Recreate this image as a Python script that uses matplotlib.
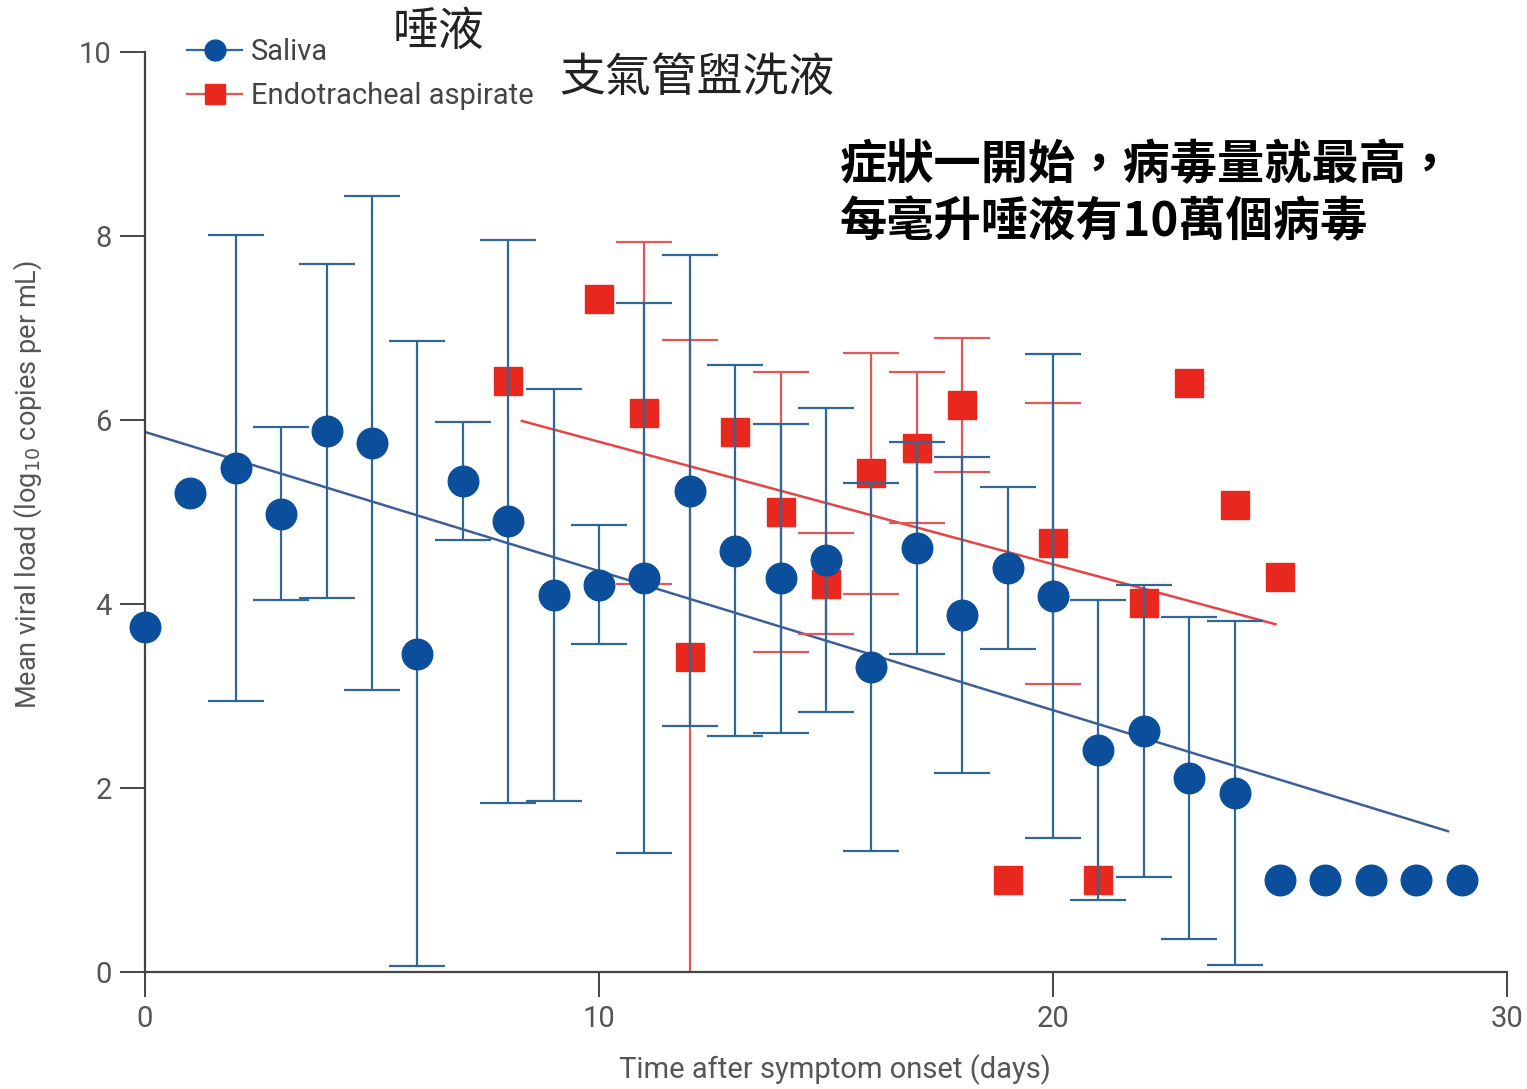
import numpy as np
import matplotlib
matplotlib.use("Agg")
from matplotlib import pyplot as plt
from matplotlib.lines import Line2D

# saliva: mean and SD of log10 viral load by day after onset
sal_days = list(range(30))
sal_mean = [3.75, 5.21, 5.48, 4.98, 5.88, 5.75, 3.46, 5.34, 4.90, 4.10,
            4.21, 4.28, 5.23, 4.58, 4.28, 4.48, 3.32, 4.61, 3.88, 4.39,
            4.09, 2.41, 2.62, 2.11, 1.95, 1.0, 1.0, 1.0, 1.0, 1.0]
nan = np.nan
sal_sd = [nan, nan, 2.53, 0.94, 1.82, 2.68, 3.40, 0.64, 3.06, 2.24,
          0.65, 2.99, 2.56, 2.02, 1.68, 1.65, 2.00, 1.15, 1.72, 0.88,
          2.63, 1.63, 1.59, 1.75, 1.87, nan, nan, nan, nan, nan]

# endotracheal aspirate
et_days = [8, 10, 11, 12, 13, 14, 15, 16, 17, 18, 19, 20, 21, 22, 23, 24, 25]
et_mean = [6.42, 7.32, 6.08, 3.42, 5.87, 5.00, 4.22, 5.42, 5.70, 6.16,
           1.0, 4.66, 1.0, 4.01, 6.40, 5.08, 4.29]
et_sd = [nan, nan, 1.86, 3.45, nan, 1.52, 0.55, 1.31, 0.82, 0.73,
         nan, 1.53, nan, nan, nan, nan, nan]

# fitted trend lines (end points)
sal_fit_x = [0, 28.7]
sal_fit_y = [5.87, 1.53]
et_fit_x = [8.3, 24.9]
et_fit_y = [5.99, 3.78]

font = 'Roboto'
blue = '#0b4f9c'
blue_err = '#2f6894'
red = '#e8271f'
red_err = '#e0585a'
grey = '#555555'

fig = plt.figure(figsize=(15.27, 10.89), dpi=100)
W, H = 1527, 1089
ax = fig.add_axes([145 / W, 1 - 972 / H, 1362 / W, 920 / H])

ax.plot(sal_fit_x, sal_fit_y, color='#3d5f98', lw=1.8, zorder=1)
ax.plot(et_fit_x, et_fit_y, color='#e64545', lw=1.8, zorder=1)

ax.errorbar(et_days, et_mean, yerr=et_sd, fmt='none', ecolor=red_err,
            elinewidth=1.6, capsize=20, capthick=1.6, zorder=2)
ax.plot(et_days, et_mean, 's', color=red, ms=20, mec=red, zorder=3, clip_on=False)
ax.errorbar(sal_days, sal_mean, yerr=sal_sd, fmt='none', ecolor=blue_err,
            elinewidth=1.6, capsize=20, capthick=1.6, zorder=4)
ax.plot(sal_days, sal_mean, 'o', color=blue, ms=22, mec=blue, zorder=5, clip_on=False)

ax.set_xlim(0, 30)
ax.set_ylim(0, 10)
ax.set_xticks([0, 10, 20, 30])
ax.set_yticks([0, 2, 4, 6, 8, 10])
for s in ['top', 'right']:
    ax.spines[s].set_visible(False)
for s in ['left', 'bottom']:
    ax.spines[s].set_color('#444444')
    ax.spines[s].set_linewidth(1.6)
ax.tick_params(length=18, width=1.4, color='#444444', labelcolor=grey,
               labelsize=21, pad=6)
for lab in ax.get_xticklabels() + ax.get_yticklabels():
    lab.set_family(font)

ax.set_xlabel('Time after symptom onset (days)', family=font, fontsize=21,
              color=grey, va='center')
ax.xaxis.set_label_coords((835 - 145) / 1362, -(1070 - 972) / 920)
ax.set_ylabel('Mean viral load (log$_{10}$ copies per mL)', family=font,
              fontsize=19.5, color=grey, va='center')
ax.yaxis.set_label_coords(-(145 - 28) / 1362, (972 - 485) / 920)

handles = [
    Line2D([], [], color=blue_err, lw=1.6, marker='o', ms=15, mfc=blue, mec=blue),
    Line2D([], [], color=red_err, lw=1.6, marker='s', ms=14, mfc=red, mec=red),
]
ax.legend(handles, ['Saliva', 'Endotracheal aspirate'], loc='upper left',
          bbox_to_anchor=(187 / W, 1 - 38 / H), bbox_transform=fig.transFigure,
          frameon=False, borderpad=0, borderaxespad=0, handlelength=1.9,
          handletextpad=0.3, labelspacing=0.55,
          prop={'family': font, 'size': 21}, labelcolor='#444444')

cjk = ['Noto Sans CJK TC', 'DejaVu Sans']
fig.text(439 / W, 1 - 32 / H, '唾液', family=cjk, fontsize=33, ha='center',
         va='center', color='#222222')
fig.text(697 / W, 1 - 78 / H, '支氣管盥洗液', family=cjk, fontsize=33,
         ha='center', va='center', color='#222222')
fig.text(840 / W, 1 - 165 / H, '症狀一開始，病毒量就最高，', family=cjk,
         fontsize=34, fontweight='bold', ha='left', va='center', color='black')
fig.text(840 / W, 1 - 222 / H, '每毫升唾液有10萬個病毒', family=cjk,
         fontsize=34, fontweight='bold', ha='left', va='center', color='black')

fig.savefig('out.png', dpi=100)
